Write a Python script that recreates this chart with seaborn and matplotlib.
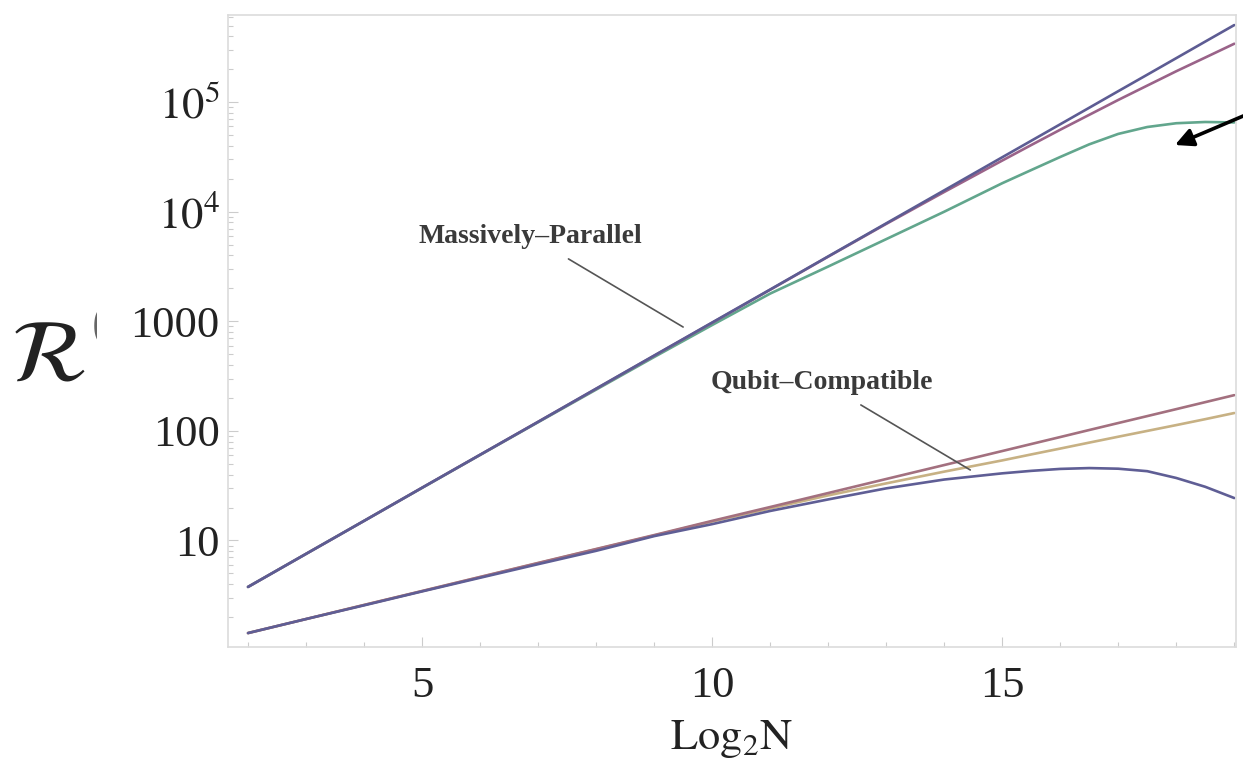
import matplotlib
matplotlib.use("Agg")
import matplotlib.pyplot as plt
import numpy as np
import pandas as pd
import seaborn as sns
from matplotlib.ticker import FixedLocator, FixedFormatter, LogLocator, NullFormatter
from matplotlib.transforms import Bbox

# x positions: log2 of the problem size N
log2_n = [2, 3, 4, 5, 6, 7, 8, 9, 10, 11, 12, 13, 14, 15,
          15.5, 16, 16.5, 17, 17.5, 18, 18.5, 19]

# Massively-parallel family
mp_ideal = [3.77, 7.55, 15.1, 30.3, 60.6, 121, 243, 487, 975, 1950, 3910, 7830,
            15670, 31400, 44400, 62800, 88900, 125900, 178000, 252000, 357000, 505000]
mp_overhead = [3.77, 7.55, 15.1, 30.3, 60.5, 121, 242, 485, 970, 1940, 3890, 7740,
               15140, 29300, 40600, 56000, 76600, 104700, 141600, 191400, 255300, 341200]
mp_saturating = [3.77, 7.55, 15.1, 30.2, 60.3, 120, 238, 472, 925, 1790, 3160, 5620,
                 10000, 18200, 24000, 31600, 41200, 51300, 59300, 64200, 65900, 65300]

# Qubit-compatible family
qc_ideal = [1.43, 1.92, 2.58, 3.46, 4.65, 6.24, 8.36, 11.2, 15.1, 20.2, 27.1, 36.4,
            48.8, 65.5, 75.9, 87.9, 101.9, 118, 136.5, 158, 183, 212]
qc_overhead = [1.43, 1.92, 2.58, 3.45, 4.63, 6.21, 8.32, 11.1, 14.9, 19.6, 25.8, 33.2,
               42.5, 53.8, 61.0, 69.0, 78.2, 88.5, 100, 113, 128, 145.6]
qc_decoherent = [1.43, 1.92, 2.56, 3.43, 4.57, 6.08, 8.05, 10.96, 14.1, 18.6, 23.7, 29.9,
                 36.0, 41.0, 43.2, 45.0, 45.8, 45.2, 42.9, 37.2, 30.9, 24.4]

series_names = ["qc_overhead", "qc_ideal", "qc_decoherent",
                "mp_saturating", "mp_overhead", "mp_ideal"]
series_values = [qc_overhead, qc_ideal, qc_decoherent,
                 mp_saturating, mp_overhead, mp_ideal]
series_colors = ["#c7b184", "#a3707f", "#5f5e95",
                 "#62a68d", "#9a6389", "#5d5c93"]

ytick_values = [10, 100, 1000, 1e4, 1e5]
ytick_labels = ["10", "100", "1000", r"$10^4$", r"$10^5$"]
xtick_values = [5, 10, 15]
xtick_labels = ["5", "10", "15"]

frames = [pd.DataFrame({"log2N": log2_n, "R": vals, "series": name})
          for name, vals in zip(series_names, series_values)]
df = pd.concat(frames, ignore_index=True)

sns.set_theme(style="white")
plt.rcParams["font.family"] = ["Liberation Serif", "DejaVu Serif"]
plt.rcParams["mathtext.fontset"] = "stix"

W, H = 1243, 761
fig = plt.figure(figsize=(W / 100, H / 100), dpi=100)
ax = fig.add_axes([228 / W, 114 / H, (1236 - 228) / W, (746 - 114) / H])

sns.lineplot(data=df, x="log2N", y="R", hue="series", hue_order=series_names,
             palette=dict(zip(series_names, series_colors)), estimator=None,
             sort=False, linewidth=1.9, legend=False, ax=ax)

ax.set_yscale("log")
ax.set_xlim(1.655, 19.03)
ax.set_ylim(1.067, 6.24e5)

ax.yaxis.set_major_locator(FixedLocator(ytick_values))
ax.yaxis.set_major_formatter(FixedFormatter(ytick_labels))
ax.yaxis.set_minor_locator(LogLocator(base=10, subs=np.arange(2, 10)))
ax.yaxis.set_minor_formatter(NullFormatter())
ax.xaxis.set_major_locator(FixedLocator(xtick_values))
ax.xaxis.set_major_formatter(FixedFormatter(xtick_labels))
ax.xaxis.set_minor_locator(FixedLocator(np.arange(2, 20, 1.0)))

ax.tick_params(which="both", direction="in", color="#cccccc", width=0.8,
               labelsize=32, labelcolor="#222222")
ax.tick_params(which="major", length=7)
ax.tick_params(which="minor", length=3.5)
ax.tick_params(axis="y", pad=6)
ax.tick_params(axis="x", pad=14)
ax.yaxis.set_ticks_position("left")
ax.xaxis.set_ticks_position("bottom")

for sp in ax.spines.values():
    sp.set_color("#dcdcdc")
    sp.set_linewidth(1.2)

ax.set_xlabel(r"$\mathrm{Log}_2\mathrm{N}$", fontsize=32, color="#222222", labelpad=8)
ax.set_ylabel("")

fig.text(48 / W, 1 - 360 / H, r"$\mathcal{R}$", fontsize=64, color="#222222",
         ha="center", va="center")
paren = fig.text(92 / W, 1 - 326 / H, "(", fontsize=36, color="#666666",
                 ha="left", va="center")
paren.set_clip_box(Bbox.from_extents(0, 0, 97, H))
paren.set_clip_on(True)

label_style = dict(fontsize=20, fontweight="bold", color="#3a3a3a",
                   ha="center", va="center")
ax.annotate("Massively\u2013Parallel", xy=(9.5, 887), xytext=(6.86, 6000),
            arrowprops=dict(arrowstyle="-", color="#555555", lw=1.2,
                            shrinkA=10, shrinkB=0),
            **label_style)
ax.annotate("Qubit\u2013Compatible", xy=(14.45, 44), xytext=(11.9, 279),
            arrowprops=dict(arrowstyle="-", color="#555555", lw=1.2,
                            shrinkA=10, shrinkB=0),
            **label_style)

ax.annotate("", xy=(1175, H - 145), xycoords="figure pixels",
            xytext=(1262, H - 108), textcoords="figure pixels",
            arrowprops=dict(arrowstyle="-|>,head_length=0.9,head_width=0.45",
                            color="black", lw=2.6, shrinkA=0, shrinkB=0),
            annotation_clip=False)

fig.savefig("out.png", dpi=100)
